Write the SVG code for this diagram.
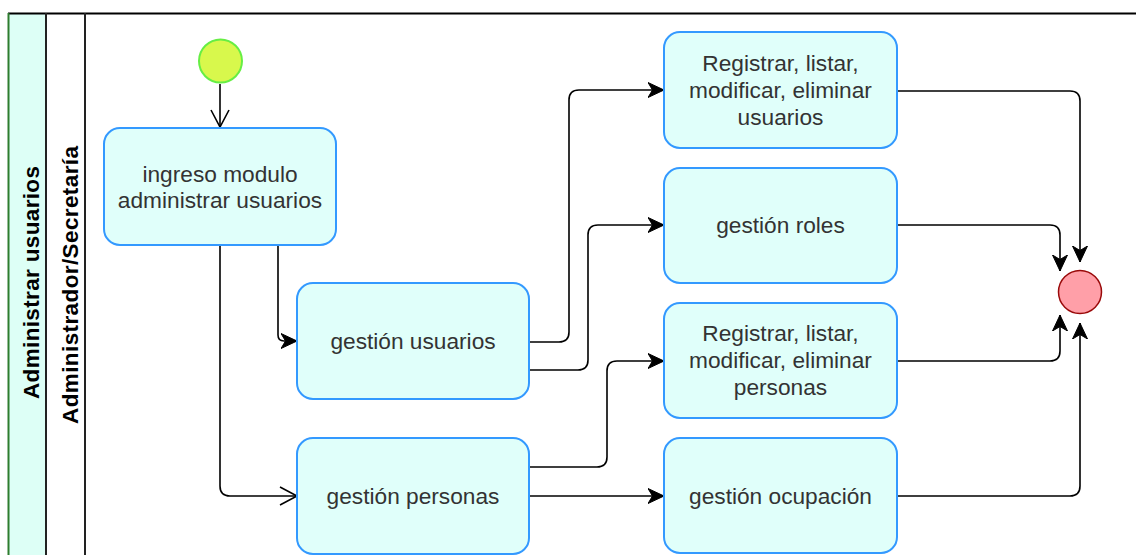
<svg xmlns="http://www.w3.org/2000/svg" width="1136" height="555" viewBox="0 0 1136 555">
<style>
.node rect{fill:#e0fffa;stroke:#3399ff;stroke-width:2}
.node text{font-family:"Liberation Sans",Arial,sans-serif;font-size:22.7px;fill:#333;text-anchor:middle}
.lane text{font-family:"Liberation Sans",Arial,sans-serif;font-size:22.5px;font-weight:bold;fill:#000;text-anchor:middle}
.conn path{fill:none;stroke:#000;stroke-width:1.6}
</style>
<defs>
<marker id="fill" viewBox="0 0 16 16" markerWidth="16" markerHeight="16" refX="16" refY="8" orient="auto" markerUnits="userSpaceOnUse">
<path d="M16,8 L0,0.5 L4.5,8 L0,15.5 Z" fill="#000" stroke="#000" stroke-width="1"/>
</marker>
<marker id="open" viewBox="0 0 20 20" markerWidth="20" markerHeight="20" refX="18" refY="10" orient="auto" markerUnits="userSpaceOnUse">
<path d="M1,1 L18,10 L1,19" fill="none" stroke="#000" stroke-width="1.6"/>
</marker>
</defs>
<rect width="1136" height="555" fill="#fff"/>
<g id="lane" class="lane">
<rect x="8" y="13" width="38" height="545" fill="#ddfff6"/>
<line x1="8" y1="13.5" x2="1136" y2="13.5" stroke="#000" stroke-width="2"/>
<line x1="8.5" y1="13" x2="8.5" y2="555" stroke="#2e7d2e" stroke-width="2"/>
<line x1="46" y1="13" x2="46" y2="555" stroke="#222" stroke-width="2"/>
<line x1="85" y1="13" x2="85" y2="555" stroke="#222" stroke-width="2"/>
<text transform="translate(39,282.5) rotate(-90)" textLength="233" lengthAdjust="spacing">Administrar usuarios</text>
<text transform="translate(78,285) rotate(-90)" textLength="278" lengthAdjust="spacing">Administrador/Secretaría</text>
</g>
<g class="conn">
<path d="M220,84 V127" marker-end="url(#open)"/>
<path d="M278,245 V335 Q278,341 284,341 H297" marker-end="url(#fill)"/>
<path d="M220,245 V486 Q220,496 230,496 H297" marker-end="url(#open)"/>
<path d="M529,342 H559 Q569,342 569,332 V100 Q569,90 579,90 H664" marker-end="url(#fill)"/>
<path d="M529,370 H578 Q588,370 588,360 V235 Q588,225 598,225 H664" marker-end="url(#fill)"/>
<path d="M529,467 H597 Q607,467 607,457 V371 Q607,361 617,361 H664" marker-end="url(#fill)"/>
<path d="M529,496 H664" marker-end="url(#fill)"/>
<path d="M897,91 H1070 Q1080,91 1080,101 V262" marker-end="url(#fill)"/>
<path d="M897,225 H1050 Q1060,225 1060,235 V271" marker-end="url(#fill)"/>
<path d="M897,361 H1050 Q1060,361 1060,351 V315" marker-end="url(#fill)"/>
<path d="M897,496 H1070 Q1080,496 1080,486 V323" marker-end="url(#fill)"/>
</g>
<g id="start"><circle cx="220.5" cy="61" r="21.5" fill="#d8f84c" stroke="#66ee44" stroke-width="2"/></g>
<g id="end"><circle cx="1080" cy="292" r="21.5" fill="#ff9fa8" stroke="#9a0a0a" stroke-width="1.5"/></g>
<g id="ingreso" class="node"><rect x="104" y="128" width="232" height="117" rx="16"/><text x="220" y="182">ingreso modulo</text><text x="220" y="208">administrar usuarios</text></g>
<g id="gestion-usuarios" class="node"><rect x="297" y="283" width="232" height="116" rx="16"/><text x="413" y="349">gestión usuarios</text></g>
<g id="gestion-personas" class="node"><rect x="297" y="438" width="232" height="116" rx="16"/><text x="413" y="504">gestión personas</text></g>
<g id="crud-usuarios" class="node"><rect x="664" y="32" width="233" height="116" rx="16"/><text x="780.5" y="71">Registrar, listar,</text><text x="780.5" y="98">modificar, eliminar</text><text x="780.5" y="125">usuarios</text></g>
<g id="gestion-roles" class="node"><rect x="664" y="168" width="233" height="115" rx="16"/><text x="780.5" y="233">gestión roles</text></g>
<g id="crud-personas" class="node"><rect x="664" y="303" width="233" height="115" rx="16"/><text x="780.5" y="341">Registrar, listar,</text><text x="780.5" y="368">modificar, eliminar</text><text x="780.5" y="395">personas</text></g>
<g id="gestion-ocupacion" class="node"><rect x="664" y="438" width="233" height="115" rx="16"/><text x="780.5" y="504">gestión ocupación</text></g>
</svg>
